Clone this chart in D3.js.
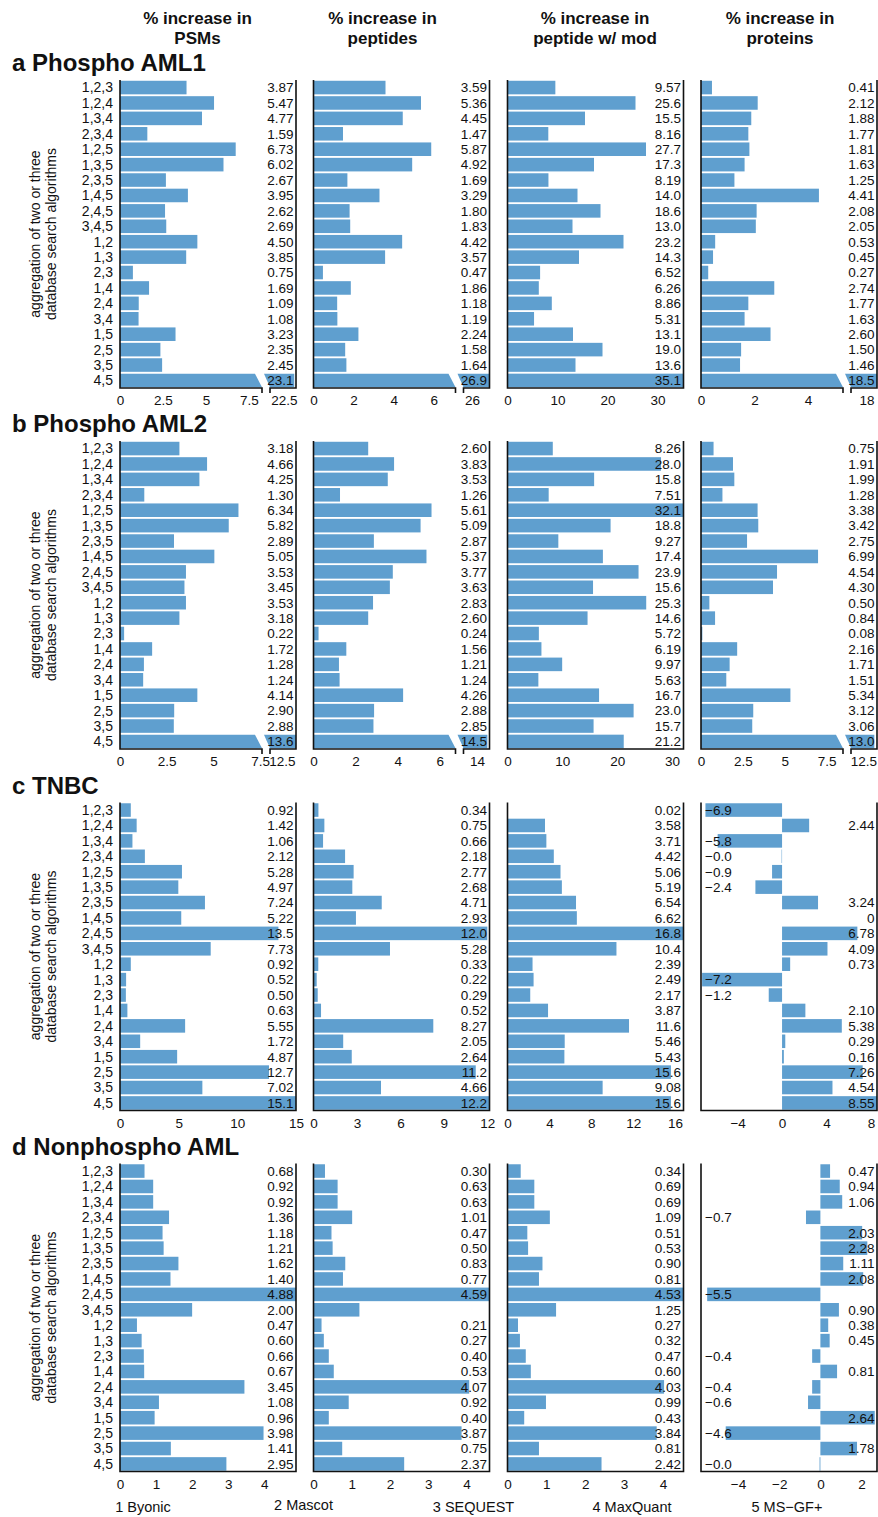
<!DOCTYPE html>
<html><head><meta charset="utf-8">
<script src="https://cdn.jsdelivr.net/npm/d3@7"></script>
<style>
body{margin:0;background:#fff}
svg{display:block}
text{font-family:"Liberation Sans",Arial,Helvetica,sans-serif;fill:#111}
</style>
</head><body>
<svg id="chart" width="878" height="1517"></svg>
<script>
// ---------- data ----------
const rowLabels = ["1,2,3","1,2,4","1,3,4","2,3,4","1,2,5","1,3,5","2,3,5","1,4,5","2,4,5","3,4,5",
                   "1,2","1,3","2,3","1,4","2,4","3,4","1,5","2,5","3,5","4,5"];
const columnTitles = [["% increase in","PSMs"],["% increase in","peptides"],["% increase in","peptide w/ mod"],["% increase in","proteins"]];
const panelTitles = ["a Phospho AML1","b Phospho AML2","c TNBC","d Nonphospho AML"];
const algorithmNames = ["1 Byonic","2 Mascot","3 SEQUEST","4 MaxQuant","5 MS\u2212GF+"];
const yAxisTitle = ["aggregation of two or three","database search algorithms"];

const aPSMs       = [3.87,5.47,4.77,1.59,6.73,6.02,2.67,3.95,2.62,2.69,4.50,3.85,0.75,1.69,1.09,1.08,3.23,2.35,2.45,23.1];
const aPeptides   = [3.59,5.36,4.45,1.47,5.87,4.92,1.69,3.29,1.80,1.83,4.42,3.57,0.47,1.86,1.18,1.19,2.24,1.58,1.64,26.9];
const aPeptideMod = [9.57,25.6,15.5,8.16,27.7,17.3,8.19,14.0,18.6,13.0,23.2,14.3,6.52,6.26,8.86,5.31,13.1,19.0,13.6,35.1];
const aProteins   = [0.41,2.12,1.88,1.77,1.81,1.63,1.25,4.41,2.08,2.05,0.53,0.45,0.27,2.74,1.77,1.63,2.60,1.50,1.46,18.5];

const bPSMs       = [3.18,4.66,4.25,1.30,6.34,5.82,2.89,5.05,3.53,3.45,3.53,3.18,0.22,1.72,1.28,1.24,4.14,2.90,2.88,13.6];
const bPeptides   = [2.60,3.83,3.53,1.26,5.61,5.09,2.87,5.37,3.77,3.63,2.83,2.60,0.24,1.56,1.21,1.24,4.26,2.88,2.85,14.5];
const bPeptideMod = [8.26,28.0,15.8,7.51,32.1,18.8,9.27,17.4,23.9,15.6,25.3,14.6,5.72,6.19,9.97,5.63,16.7,23.0,15.7,21.2];
const bProteins   = [0.75,1.91,1.99,1.28,3.38,3.42,2.75,6.99,4.54,4.30,0.50,0.84,0.08,2.16,1.71,1.51,5.34,3.12,3.06,13.0];

const cPSMs       = [0.92,1.42,1.06,2.12,5.28,4.97,7.24,5.22,13.5,7.73,0.92,0.52,0.50,0.63,5.55,1.72,4.87,12.7,7.02,15.1];
const cPeptides   = [0.34,0.75,0.66,2.18,2.77,2.68,4.71,2.93,12.0,5.28,0.33,0.22,0.29,0.52,8.27,2.05,2.64,11.2,4.66,12.2];
const cPeptideMod = [0.02,3.58,3.71,4.42,5.06,5.19,6.54,6.62,16.8,10.4,2.39,2.49,2.17,3.87,11.6,5.46,5.43,15.6,9.08,15.6];
const cProteins   = [-6.9,2.44,-5.8,-0.04,-0.9,-2.4,3.24,0,6.78,4.09,0.73,-7.2,-1.2,2.10,5.38,0.29,0.16,7.26,4.54,8.55];

const dPSMs       = [0.68,0.92,0.92,1.36,1.18,1.21,1.62,1.40,4.88,2.00,0.47,0.60,0.66,0.67,3.45,1.08,0.96,3.98,1.41,2.95];
const dPeptides   = [0.30,0.63,0.63,1.01,0.47,0.50,0.83,0.77,4.59,1.20,0.21,0.27,0.40,0.53,4.07,0.92,0.40,3.87,0.75,2.37];
const dPeptideMod = [0.34,0.69,0.69,1.09,0.51,0.53,0.90,0.81,4.53,1.25,0.27,0.32,0.47,0.60,4.03,0.99,0.43,3.84,0.81,2.42];
const dProteins   = [0.47,0.94,1.06,-0.7,2.03,2.28,1.11,2.08,-5.5,0.90,0.38,0.45,-0.4,0.81,-0.4,-0.6,2.64,-4.6,1.78,-0.04];

// axis settings: broken axes [end of first segment, start of second, end of second]
const aBreaks  = [[8.26,21.69,23.2],[7.08,25.58,26.88],null,[5.31,17.43,18.38]];
const aDomains = [null,null,[0,35.2],null];
const aTicks   = [[0,2.5,5,7.5,22.5],[0,2,4,6,26],[0,10,20,30],[0,2,4,18]];
const bBreaks  = [[7.6,11.86,13.25],[6.75,13.36,14.6],null,[8.48,11.6,13.16]];
const bDomains = [null,null,[0,32.1],null];
const bTicks   = [[0,2.5,5,7.5,12.5],[0,2,4,6,14],[0,10,20,30],[0,2.5,5,7.5,12.5]];
const cBreaks  = [null,null,null,null];
const cDomains = [[0,15],[0,12.15],[0,16.8],[-7.3,8.55]];
const cTicks   = [[0,5,10,15],[0,3,6,9,12],[0,4,8,12,16],[-4,0,4,8]];
const dBreaks  = [null,null,null,null];
const dDomains = [[0,4.88],[0,4.6],[0,4.53],[-5.8,2.75]];
const dTicks   = [[0,1,2,3,4],[0,1,2,3,4],[0,1,2,3,4],[-4,-2,0,2]];
// value labels not printed in the original (panel, column, row)
const hiddenLabels = [[3,1,9]];

// ---------- layout ----------
const svg = d3.select("#chart");
const colLefts = [120, 313.5, 507.5, 701];
const W = 176, H = 308;
const panelTops = [80, 441, 802.5, 1163.5];
const seg1W = 142, seg2Start = 150;
const barColor = "#5f9fcf";
const headerX = [197.5, 382.5, 595, 780];
const legendX = [143, 303.5, 473.5, 632, 787];
const legendY = [1511.5, 1510, 1511.5, 1511.5, 1511.5];

const panels = [
  {cols:[aPSMs,aPeptides,aPeptideMod,aProteins], breaks:aBreaks, domains:aDomains, ticks:aTicks},
  {cols:[bPSMs,bPeptides,bPeptideMod,bProteins], breaks:bBreaks, domains:bDomains, ticks:bTicks},
  {cols:[cPSMs,cPeptides,cPeptideMod,cProteins], breaks:cBreaks, domains:cDomains, ticks:cTicks},
  {cols:[dPSMs,dPeptides,dPeptideMod,dProteins], breaks:dBreaks, domains:dDomains, ticks:dTicks}
];

const fmtVal = v => {
  if (v === 0) return "0";
  if (v < 0) return "\u2212" + (-v).toFixed(1);
  return v >= 10 ? v.toFixed(1) : v.toFixed(2);
};
const fmtTick = v => v < 0 ? "\u2212" + (-v) : String(v);

function styleAxis(ax) {
  ax.select(".domain").remove();
  ax.selectAll("text").style("font-size","13.5px").style("font-family",null).attr("fill","#111")
    .each(function() {
      const bb = this.getBBox();
      const m = this.parentNode.transform.baseVal.consolidate().matrix;
      const r = m.e + bb.x + bb.width;
      if (r > 877) d3.select(this).attr("dx", (877 - r) + "px");
    });
}

// column headers
columnTitles.forEach((t, i) => {
  const g = svg.append("text").attr("text-anchor","middle")
    .style("font-weight","bold").style("font-size","17px");
  g.append("tspan").attr("x", headerX[i]).attr("y", 23.5).text(t[0]);
  g.append("tspan").attr("x", headerX[i]).attr("y", 43.5).text(t[1]);
});

const defs = svg.append("defs");

panels.forEach((P, pi) => {
  const top = panelTops[pi], bottom = top + H;
  svg.append("text").attr("x", 12).attr("y", top - 9)
    .style("font-weight","bold").style("font-size","24px").text(panelTitles[pi]);

  const y = d3.scaleBand().domain(rowLabels).range([top, bottom]).paddingInner(0.12).paddingOuter(0.05);

  svg.append("g").selectAll("text").data(rowLabels).join("text")
    .attr("x", 113).attr("y", d => y(d) + y.bandwidth()/2).attr("dy","0.35em")
    .attr("text-anchor","end").style("font-size","14px").text(d => d);

  const cy = (top + bottom) / 2;
  yAxisTitle.forEach((t, k) => {
    svg.append("text").attr("transform", `translate(${40 + k*16},${cy}) rotate(-90)`)
      .attr("text-anchor","middle").style("font-size","14px").text(t);
  });

  P.cols.forEach((vals, ci) => {
    const left = colLefts[ci], right = left + W;
    const br = P.breaks[ci];
    const clipId = `clip-${pi}-${ci}`;
    defs.append("clipPath").attr("id", clipId).append("rect")
      .attr("x", left).attr("y", top).attr("width", W).attr("height", H);
    const cell = svg.append("g");
    const bars = cell.append("g").attr("clip-path", `url(#${clipId})`);

    if (!br) {
      const x = d3.scaleLinear().domain(P.domains[ci]).range([left, right]);
      bars.selectAll("rect").data(vals).join("rect")
        .attr("x", d => Math.min(x(0), x(d)))
        .attr("y", (d, i) => y(rowLabels[i]))
        .attr("width", d => Math.abs(x(d) - x(0)))
        .attr("height", y.bandwidth())
        .attr("fill", barColor);
      const ax = cell.append("g").attr("transform", `translate(0,${bottom})`)
        .call(d3.axisBottom(x).tickValues(P.ticks[ci]).tickSize(0).tickPadding(7.5).tickFormat(fmtTick));
      styleAxis(ax);
      cell.append("path")
        .attr("d", `M${left},${top}V${bottom}H${right}V${top}`)
        .attr("fill","none").attr("stroke","#111").attr("stroke-width",1.6);
    } else {
      const x1 = d3.scaleLinear().domain([0, br[0]]).range([left, left + seg1W]);
      const x2 = d3.scaleLinear().domain([br[1], br[2]]).range([left + seg2Start, right]);
      vals.forEach((v, i) => {
        const t = y(rowLabels[i]), b = t + y.bandwidth();
        if (v <= br[0]) {
          bars.append("rect").attr("x", x1(0)).attr("y", t)
            .attr("width", x1(v) - x1(0)).attr("height", y.bandwidth()).attr("fill", barColor);
        } else {
          const e1 = x1(br[0]);
          bars.append("polygon")
            .attr("points", [[x1(0),t],[e1-7,t],[e1,b],[x1(0),b]].map(p=>p.join(",")).join(" "))
            .attr("fill", barColor);
          const s2 = x2(br[1]), ev = x2(v);
          bars.append("polygon")
            .attr("points", [[e1+2,t],[ev,t],[ev,b],[s2,b]].map(p=>p.join(",")).join(" "))
            .attr("fill", barColor);
        }
      });
      const t1 = P.ticks[ci].filter(v => v <= br[0]);
      const t2 = P.ticks[ci].filter(v => v > br[0]);
      [[x1,t1],[x2,t2]].forEach(([sc, tv]) => {
        const ax = cell.append("g").attr("transform", `translate(0,${bottom})`)
          .call(d3.axisBottom(sc).tickValues(tv).tickSize(0).tickPadding(7.5).tickFormat(fmtTick));
        styleAxis(ax);
      });
      const e1 = x1(br[0]), s2 = x2(br[1]);
      cell.append("path")
        .attr("d", `M${left},${top}V${bottom}H${e1}V${bottom+5}M${s2},${bottom+5}V${bottom}H${right}V${top}`)
        .attr("fill","none").attr("stroke","#111").attr("stroke-width",1.6);
    }

    // value labels
    const items = vals.map((v, i) => ({v, i}))
      .filter(d => !hiddenLabels.some(h => h[0]===pi && h[1]===ci && h[2]===d.i));
    cell.append("g").selectAll("text").data(items).join("text")
      .attr("x", d => d.v < 0 ? left + 4 : right - 2.5)
      .attr("y", d => y(rowLabels[d.i]) + y.bandwidth()/2)
      .attr("dy","0.36em")
      .attr("text-anchor", d => d.v < 0 ? "start" : "end")
      .style("font-size","13.5px")
      .text(d => fmtVal(d.v));
  });
});

algorithmNames.forEach((n, i) => {
  svg.append("text").attr("x", legendX[i]).attr("y", legendY[i])
    .attr("text-anchor","middle").style("font-size","14.5px").text(n);
});
</script>
</body></html>
